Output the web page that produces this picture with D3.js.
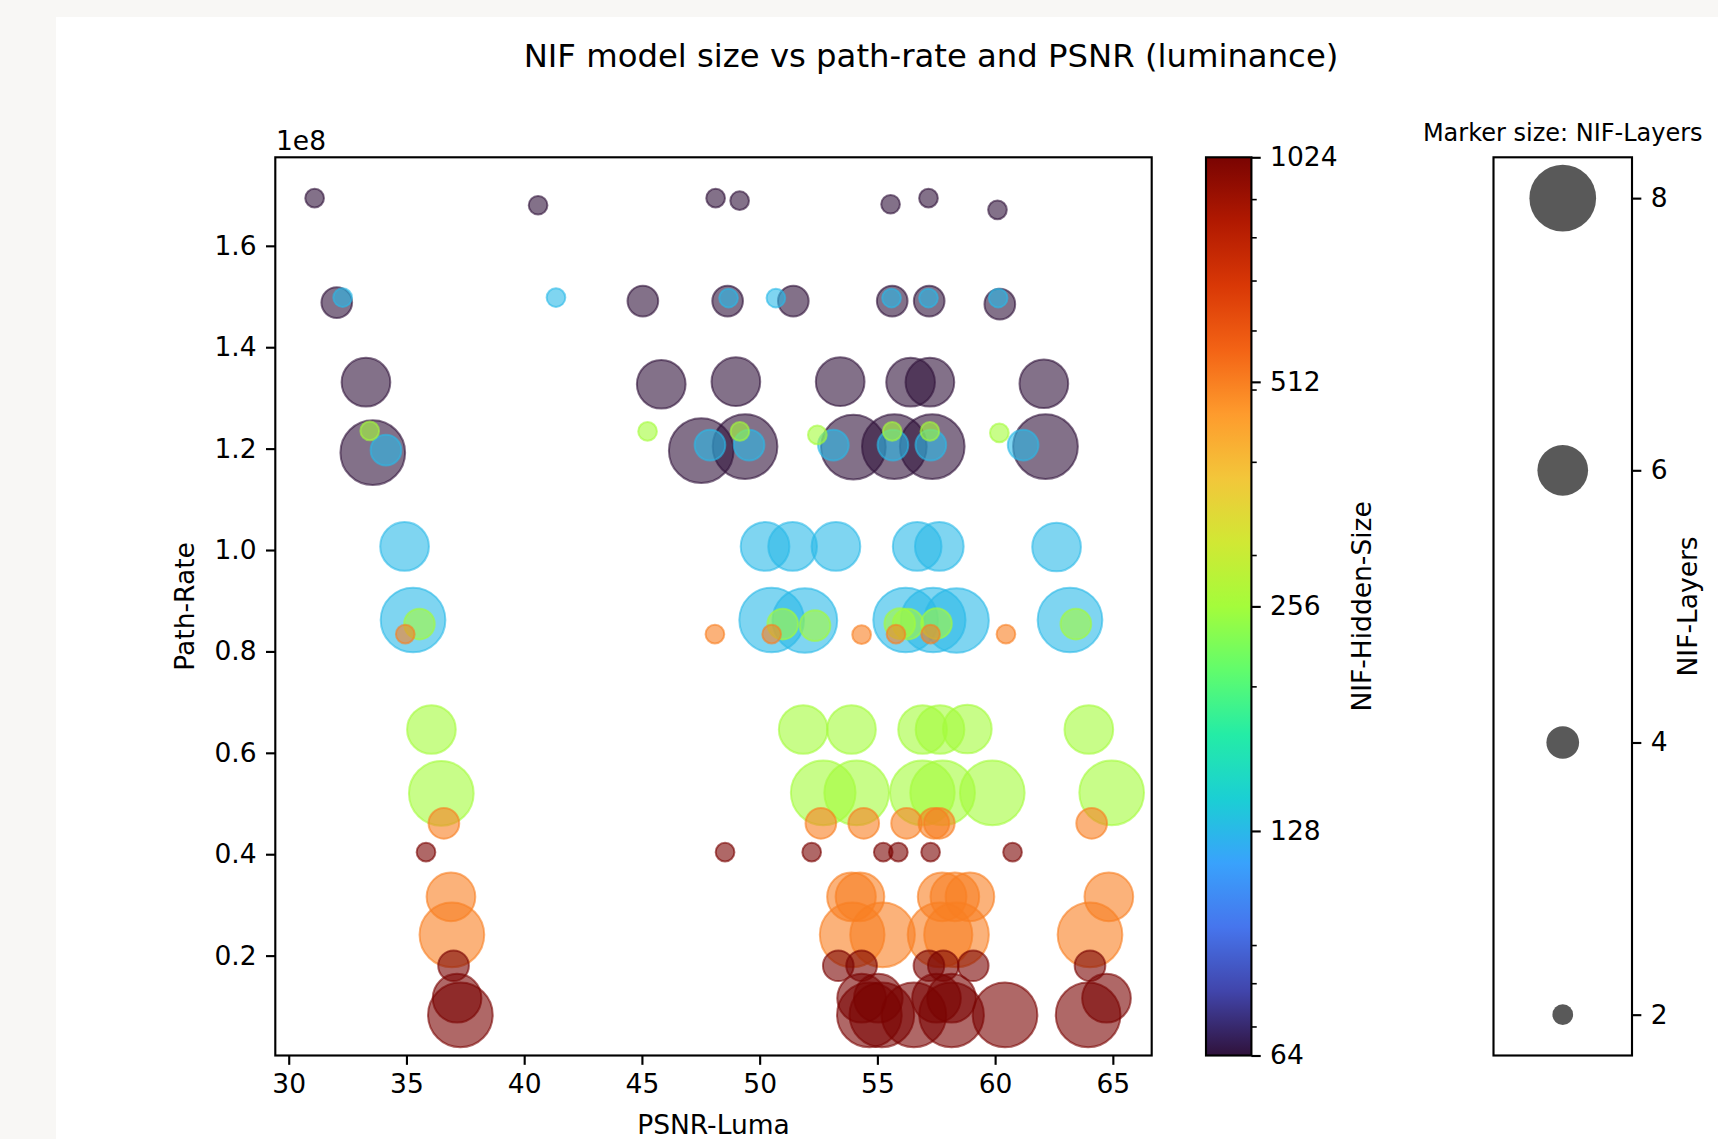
<!DOCTYPE html>
<html>
<head>
<meta charset="utf-8">
<script src="https://cdn.jsdelivr.net/npm/d3@7"></script>
<style>
  body { margin: 0; background: #f8f7f5; }
  svg { display: block; font-family: "DejaVu Sans", sans-serif; }
</style>
</head>
<body>
<svg id="chart" width="1718" height="1139"></svg>
<script>
const hiddenSizes = [64, 128, 256, 512, 1024];
const layerCounts = [2, 4, 6, 8];

// one row per layer count (2, 4, 6, 8); path-rate in units of 1e8
const psnr64 = [
  [31.10, 40.59, 48.13, 49.15, 55.56, 57.17, 60.10],
  [32.04, 45.04, 48.64, 51.43, 55.63, 57.20, 60.20],
  [33.28, 45.82, 48.99, 53.42, 56.41, 57.23, 62.07],
  [33.57, 47.52, 49.38, 53.98, 55.72, 57.33, 62.14]
];
const rate64 = [
  [1.694, 1.680, 1.694, 1.689, 1.682, 1.694, 1.671],
  [1.488, 1.491, 1.491, 1.491, 1.491, 1.491, 1.485],
  [1.331, 1.327, 1.332, 1.332, 1.331, 1.331, 1.328],
  [1.192, 1.196, 1.204, 1.203, 1.204, 1.204, 1.204]
];
const psnr128 = [
  [32.29, 41.35, 48.68, 50.69, 55.60, 57.17, 60.13],
  [34.13, 47.89, 49.55, 53.13, 55.66, 57.27, 61.19],
  [34.92, 50.23, 51.40, 53.24, 56.69, 57.63, 62.61],
  [35.28, 50.51, 51.92, 56.20, 57.37, 58.36, 63.18]
];
const rate128 = [
  [1.498, 1.498, 1.497, 1.497, 1.497, 1.497, 1.497],
  [1.197, 1.207, 1.207, 1.207, 1.207, 1.207, 1.207],
  [1.007, 1.007, 1.007, 1.007, 1.007, 1.007, 1.006],
  [0.862, 0.862, 0.861, 0.862, 0.862, 0.861, 0.862]
];
const psnr256 = [
  [33.44, 45.24, 49.16, 52.45, 55.63, 57.23, 60.18],
  [35.55, 50.98, 52.35, 55.95, 56.30, 57.51, 63.43],
  [36.06, 51.85, 53.90, 56.92, 57.66, 58.82, 63.98],
  [36.48, 52.70, 54.12, 56.91, 57.77, 59.88, 64.95]
];
const rate256 = [
  [1.235, 1.234, 1.234, 1.227, 1.234, 1.234, 1.231],
  [0.854, 0.854, 0.851, 0.855, 0.854, 0.855, 0.854],
  [0.646, 0.646, 0.646, 0.646, 0.646, 0.647, 0.646],
  [0.520, 0.521, 0.521, 0.521, 0.521, 0.521, 0.521]
];
const psnr512 = [
  [34.95, 48.10, 50.51, 54.33, 55.79, 57.26, 60.46],
  [36.59, 52.60, 54.42, 56.24, 57.40, 57.63, 64.10],
  [36.89, 53.90, 54.26, 57.75, 58.29, 58.93, 64.83],
  [36.93, 53.93, 55.22, 57.66, 58.36, 64.03]
];
const rate512 = [
  [0.834, 0.834, 0.834, 0.833, 0.834, 0.834, 0.834],
  [0.461, 0.461, 0.461, 0.461, 0.461, 0.461, 0.461],
  [0.316, 0.316, 0.316, 0.316, 0.316, 0.316, 0.316],
  [0.241, 0.241, 0.241, 0.241, 0.241, 0.241]
];
const psnr1024 = [
  [35.83, 48.53, 52.21, 55.25, 55.89, 57.26, 60.74],
  [37.00, 53.34, 54.33, 57.19, 57.80, 59.07, 64.03],
  [37.15, 54.33, 55.04, 57.51, 58.15, 64.73],
  [37.29, 54.66, 55.19, 56.55, 58.15, 60.42, 63.95]
];
const rate1024 = [
  [0.404, 0.404, 0.404, 0.404, 0.404, 0.404, 0.404],
  [0.180, 0.180, 0.180, 0.180, 0.180, 0.180, 0.180],
  [0.116, 0.116, 0.116, 0.116, 0.116, 0.116],
  [0.083, 0.083, 0.083, 0.083, 0.083, 0.083, 0.083]
];

const xTicks = [30, 35, 40, 45, 50, 55, 60, 65];
const yTicks = [0.2, 0.4, 0.6, 0.8, 1.0, 1.2, 1.4, 1.6];
const colorTicks = [64, 128, 256, 512, 1024];
const colorMinorTicks = [70, 80, 90, 200, 300, 400, 500, 600, 700, 800, 900];
const legendTicks = [2, 4, 6, 8];

const turboStops = ["#30123b", "#4145ab", "#4675ed", "#39a2fc", "#1bcfd4", "#24eca6", "#61fc6c",
  "#a4fc3b", "#d1e834", "#f3c63a", "#fe9b2d", "#f36315", "#d93806", "#b11901", "#7a0402"];

const FONT = 26.5;
const LW = 2.13;

const styleAxis = (g, size) => {
  g.attr("font-size", size).attr("font-family", "DejaVu Sans, sans-serif");
  g.select(".domain").remove();
  g.selectAll(".tick line").attr("stroke", "#000").attr("stroke-width", LW);
  g.selectAll(".tick text").attr("fill", "#000");
};

const drawChart = () => {
  const svg = d3.select("#chart");
  svg.append("rect").attr("x", 56).attr("y", 17).attr("width", 1662).attr("height", 1122).attr("fill", "#fff");

  const plot = { left: 275.3, top: 157.3, right: 1151.7, bottom: 1055.5 };
  const x = d3.scaleLinear().domain([29.43, 66.65]).range([plot.left, plot.right]);
  const y = d3.scaleLinear().domain([0.003, 1.7746]).range([plot.bottom, plot.top]);
  const color = d3.scaleSequentialLog(d3.piecewise(d3.interpolateRgb, turboStops)).domain([64, 1024]);
  const radius = d3.scaleOrdinal().domain(layerCounts).range([9.35, 15.35, 24.35, 32.35]);

  const psnrByHidden = [psnr64, psnr128, psnr256, psnr512, psnr1024];
  const rateByHidden = [rate64, rate128, rate256, rate512, rate1024];
  const points = hiddenSizes.flatMap((h, hi) =>
    layerCounts.flatMap((l, li) =>
      psnrByHidden[hi][li].map((p, j) => ({ hidden: h, layers: l, psnr: p, rate: rateByHidden[hi][li][j] }))));

  svg.append("g")
    .selectAll("circle")
    .data(points)
    .enter()
    .append("circle")
    .attr("cx", d => x(d.psnr))
    .attr("cy", d => y(d.rate))
    .attr("r", d => radius(d.layers))
    .attr("fill", d => color(d.hidden))
    .attr("fill-opacity", 0.6)
    .attr("stroke", d => color(d.hidden))
    .attr("stroke-opacity", 0.6)
    .attr("stroke-width", 2);

  const xAxis = svg.append("g")
    .attr("transform", `translate(0,${plot.bottom})`)
    .call(d3.axisBottom(x).tickValues(xTicks).tickSize(9.33).tickPadding(9.33).tickSizeOuter(0));
  styleAxis(xAxis, FONT);

  const yAxis = svg.append("g")
    .attr("transform", `translate(${plot.left},0)`)
    .call(d3.axisLeft(y).tickValues(yTicks).tickFormat(d3.format(".1f")).tickSize(9.33).tickPadding(9.33).tickSizeOuter(0));
  styleAxis(yAxis, FONT);

  svg.append("rect")
    .attr("x", plot.left).attr("y", plot.top)
    .attr("width", plot.right - plot.left).attr("height", plot.bottom - plot.top)
    .attr("fill", "none").attr("stroke", "#000").attr("stroke-width", LW);

  svg.append("text").attr("x", 276).attr("y", 150).attr("font-size", FONT).text("1e8");
  svg.append("text").attr("x", 931).attr("y", 67).attr("font-size", 32.3).attr("text-anchor", "middle")
    .text("NIF model size vs path-rate and PSNR (luminance)");
  svg.append("text").attr("x", (plot.left + plot.right) / 2).attr("y", 1134).attr("font-size", FONT)
    .attr("text-anchor", "middle").text("PSNR-Luma");
  svg.append("text").attr("transform", `translate(193.5,${(plot.top + plot.bottom) / 2}) rotate(-90)`)
    .attr("font-size", FONT).attr("text-anchor", "middle").text("Path-Rate");

  // colorbar
  const cb = { left: 1206, right: 1251.4 };
  const grad = svg.append("defs").append("linearGradient")
    .attr("id", "turbo").attr("x1", 0).attr("y1", 1).attr("x2", 0).attr("y2", 0);
  grad.selectAll("stop").data(turboStops).enter().append("stop")
    .attr("offset", (d, i) => i / (turboStops.length - 1))
    .attr("stop-color", d => d);
  svg.append("rect")
    .attr("x", cb.left).attr("y", plot.top)
    .attr("width", cb.right - cb.left).attr("height", plot.bottom - plot.top)
    .attr("fill", "url(#turbo)").attr("stroke", "#000").attr("stroke-width", LW);

  const cy = d3.scaleLog().base(2).domain([64, 1024]).range([plot.bottom, plot.top]);
  const cAxis = svg.append("g")
    .attr("transform", `translate(${cb.right},0)`)
    .call(d3.axisRight(cy).tickValues(colorTicks).tickFormat(d3.format("d")).tickSize(9.33).tickPadding(9.33).tickSizeOuter(0));
  styleAxis(cAxis, FONT);
  const cMinor = svg.append("g")
    .attr("transform", `translate(${cb.right},0)`)
    .call(d3.axisRight(cy).tickValues(colorMinorTicks).tickFormat("").tickSize(5.33).tickSizeOuter(0));
  styleAxis(cMinor, FONT);
  cMinor.selectAll(".tick line").attr("stroke-width", 1.6);
  svg.append("text").attr("transform", `translate(1371,${(plot.top + plot.bottom) / 2}) rotate(-90)`)
    .attr("font-size", FONT).attr("text-anchor", "middle").text("NIF-Hidden-Size");

  // marker size legend
  const lg = { left: 1493.5, right: 1632 };
  const ly = d3.scaleLinear().domain([1.7, 8.3]).range([plot.bottom, plot.top]);
  svg.append("g")
    .selectAll("circle")
    .data(legendTicks)
    .enter()
    .append("circle")
    .attr("cx", (lg.left + lg.right) / 2)
    .attr("cy", d => ly(d))
    .attr("r", d => radius(d) + 1)
    .attr("fill", "#000")
    .attr("fill-opacity", 0.65);
  svg.append("rect")
    .attr("x", lg.left).attr("y", plot.top)
    .attr("width", lg.right - lg.left).attr("height", plot.bottom - plot.top)
    .attr("fill", "none").attr("stroke", "#000").attr("stroke-width", LW);
  const lAxis = svg.append("g")
    .attr("transform", `translate(${lg.right},0)`)
    .call(d3.axisRight(ly).tickValues(legendTicks).tickFormat(d3.format("d")).tickSize(9.33).tickPadding(9.33).tickSizeOuter(0));
  styleAxis(lAxis, FONT);
  svg.append("text").attr("x", (lg.left + lg.right) / 2).attr("y", 141).attr("font-size", 24)
    .attr("text-anchor", "middle").text("Marker size: NIF-Layers");
  svg.append("text").attr("transform", `translate(1697,${(plot.top + plot.bottom) / 2}) rotate(-90)`)
    .attr("font-size", FONT).attr("text-anchor", "middle").text("NIF-Layers");
};

window.onload = drawChart;
</script>
</body>
</html>
